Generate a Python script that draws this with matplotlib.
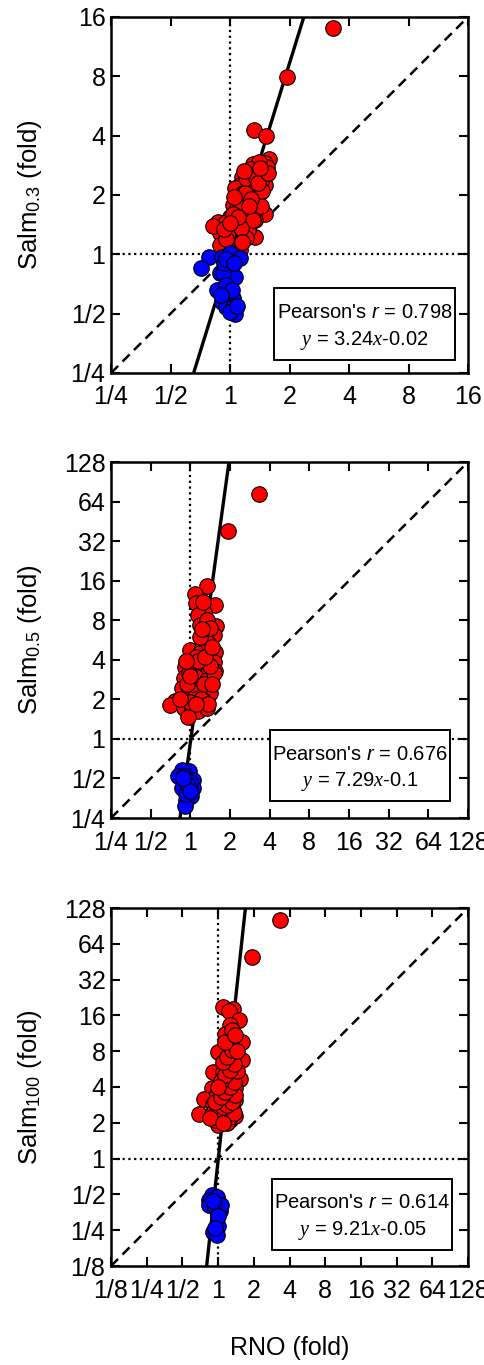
import numpy as np
import matplotlib
matplotlib.use("Agg")
import matplotlib.pyplot as plt
from matplotlib.patches import Rectangle
from matplotlib.ticker import FixedLocator, FixedFormatter, NullLocator

plt.rcParams['font.family'] = ['Liberation Sans', 'DejaVu Sans']
plt.rcParams['mathtext.fontset'] = 'custom'
plt.rcParams['mathtext.rm'] = 'Liberation Sans'
plt.rcParams['mathtext.it'] = 'Liberation Serif:italic'
plt.rcParams['mathtext.bf'] = 'Liberation Sans:italic'

# ---------------- data (fold change, RNO vs Salm) ----------------
# Salm 0.3
p1_up_x = [3.33, 1.95, 1.32, 1.52, 1.58, 1.50, 1.31, 1.39, 1.21, 1.15, 1.47, 1.31, 1.21,
           1.12, 1.50, 1.06, 1.36, 1.17, 1.29, 1.10, 1.19, 1.36, 1.04, 1.24, 1.12, 1.31,
           1.50, 1.00, 1.17, 1.34, 1.08, 0.87, 0.96, 1.21, 1.04, 0.89, 1.10, 1.34, 1.00,
           1.17, 0.89, 1.04, 1.12, 1.24, 1.00, 1.26, 1.08, 1.41, 1.53, 1.24, 1.15, 1.04,
           0.98, 1.21, 0.82, 1.45, 1.40, 1.28, 1.19, 1.30, 1.14, 0.95, 1.02, 1.43,
           1.05, 1.20, 1.35, 1.45, 1.28, 1.10, 0.93, 1.15, 1.25, 1.38, 1.55, 1.00, 1.18, 1.42]
p1_up_y = [14.0, 7.96, 4.28, 3.98, 3.03, 2.89, 2.87, 2.68, 2.58, 2.48, 2.58, 2.34, 2.29,
           2.25, 2.25, 2.16, 2.16, 2.04, 1.96, 1.89, 1.85, 1.85, 1.78, 1.71, 1.61, 1.68,
           1.61, 1.55, 1.55, 1.49, 1.44, 1.46, 1.46, 1.38, 1.33, 1.28, 1.25, 1.22, 1.19,
           1.18, 1.11, 1.11, 1.05, 1.33, 1.35, 1.55, 1.71, 2.04, 2.78, 2.12, 1.81, 1.61,
           1.28, 1.21, 1.40, 2.40, 2.95, 2.70, 2.05, 1.50, 1.36, 1.20, 1.02, 1.75,
           1.95, 2.45, 2.45, 2.10, 1.90, 1.55, 1.35, 1.15, 1.75, 2.30, 2.60, 1.45, 2.65, 2.75]
p1_dn_x = [0.78, 0.71, 0.91, 1.00, 1.12, 0.98, 0.89, 0.94, 1.06, 0.86, 1.00, 1.04, 0.91,
           0.96, 1.04, 1.06, 1.00, 0.92, 0.96, 1.02, 0.93, 0.95, 1.05, 0.90, 1.08]
p1_dn_y = [0.97, 0.85, 0.97, 1.01, 0.955, 0.92, 0.80, 0.785, 0.77, 0.66, 0.63, 0.60, 0.575,
           0.54, 0.54, 0.50, 0.51, 0.80, 0.70, 0.66, 0.90, 0.95, 0.90, 0.62, 0.55]

# Salm 0.5
p2_up_x = [3.34, 1.92, 1.33, 1.09, 1.11, 1.54, 1.27, 1.14, 1.56, 1.18, 1.29, 1.50, 0.99,
           1.22, 1.54, 1.50, 0.91, 1.03, 1.18, 1.37, 1.54, 0.90, 1.11, 1.33, 0.86, 1.09,
           1.25, 1.41, 0.96, 1.02, 0.77, 0.70, 0.90, 1.03, 1.25, 1.14, 0.96, 1.33, 0.99,
           1.18, 1.37, 1.33, 1.50, 0.97, 1.11, 1.18, 1.11,
           1.05, 1.20, 0.95, 1.28, 1.40, 1.00, 1.15, 0.92, 1.30, 1.45, 1.40, 1.22, 1.25,
           1.00, 1.35, 0.83, 1.10, 1.45]
p2_up_y = [73.5, 38.1, 14.6, 12.7, 10.8, 10.4, 9.3, 8.8, 7.2, 7.4, 6.2, 6.2, 4.76,
           4.9, 4.6, 3.87, 3.55, 3.55, 3.46, 3.16, 3.3, 2.89, 2.95, 2.80, 2.43, 2.43,
           2.37, 2.23, 2.2, 2.04, 1.93, 1.82, 1.72, 1.72, 1.98, 1.62, 1.48, 1.72, 2.8,
           4.5, 5.35, 8.0, 3.16, 3.16, 2.23, 6.0, 4.2,
           2.6, 2.0, 2.6, 2.6, 3.6, 3.0, 3.9, 3.9, 4.2, 5.0, 7.0, 6.8, 11.0,
           1.9, 1.85, 2.0, 1.85, 2.6]
p2_dn_x = [0.97, 0.86, 0.81, 1.05, 0.86, 1.05, 1.02, 0.92, 0.91, 0.90, 0.99, 0.92,
           0.95, 1.00, 0.88]
p2_dn_y = [0.57, 0.58, 0.52, 0.49, 0.42, 0.42, 0.365, 0.345, 0.31, 0.52, 0.47, 0.38,
           0.45, 0.40, 0.50]

# Salm 100
p3_up_x = [3.32, 1.95, 1.09, 1.34, 1.23, 1.50, 1.26, 1.14, 1.30, 1.58, 1.26, 1.00, 1.23,
           1.50, 1.14, 0.91, 1.09, 1.34, 1.53, 0.89, 1.19, 1.40, 0.76, 0.98, 1.26, 0.91,
           1.12, 1.34, 0.69, 0.89, 1.14, 1.07, 1.26, 1.00, 1.19, 1.40, 1.58, 1.09, 1.34,
           1.23, 1.07, 1.40, 1.26, 0.93,
           0.95, 1.05, 1.15, 1.25, 1.35, 1.00, 1.10, 1.20, 1.30, 1.40, 0.95, 1.05, 1.15,
           1.25, 1.35, 1.45, 1.05, 1.15, 1.25, 1.35, 1.10, 1.20, 1.30, 1.45, 1.15, 1.30,
           1.40, 0.85, 1.00, 1.10]
p3_up_y = [102, 49.6, 18.8, 18.0, 17.3, 14.5, 13.3, 11.2, 10.3, 9.6, 8.7, 7.9, 7.5,
           6.5, 6.1, 5.4, 5.3, 5.2, 4.7, 3.9, 4.1, 3.9, 3.2, 3.5, 3.2, 2.9,
           2.85, 2.57, 2.37, 2.33, 2.37, 2.11, 2.11, 1.92, 1.98, 2.3, 6.7, 3.7, 4.6,
           5.9, 2.5, 3.1, 2.5, 2.5,
           2.1, 2.3, 2.2, 2.25, 2.4, 2.6, 2.7, 2.8, 3.0, 3.4, 3.0, 3.3, 3.6,
           4.0, 4.4, 5.5, 4.5, 5.0, 5.6, 6.2, 6.5, 7.2, 8.2, 8.0, 9.5, 12.0,
           11.0, 2.2, 4.0, 2.0]
p3_dn_x = [0.88, 0.98, 0.83, 0.84, 1.04, 0.97, 1.00, 0.91, 0.97, 1.06, 0.93,
           0.90, 1.00, 0.95]
p3_dn_y = [0.49, 0.48, 0.45, 0.41, 0.36, 0.36, 0.27, 0.24, 0.23, 0.41, 0.41,
           0.44, 0.33, 0.26]

# fit in log2 space: log2(y) = slope * log2(x) + intercept
slopes = [3.24, 7.29, 9.21]
intercepts = [-0.02, -0.1, -0.05]
pearson_r = [0.798, 0.676, 0.614]
ylabels = ["Salm$_{0.3}$ (fold)", "Salm$_{0.5}$ (fold)", "Salm$_{100}$ (fold)"]
log2_limits = [(-2, 4), (-2, 7), (-3, 7)]


def frac_label(e):
    return str(2 ** e) if e >= 0 else "1/%d" % (2 ** -e)


W, H = 484, 1365
fig = plt.figure(figsize=(W / 100, H / 100), dpi=100)

# axes boxes in pixels: (left, top, right, bottom)
boxes_px = [(111, 17, 468, 373), (111, 462, 468, 818), (111, 908, 468, 1266)]
# statistics frame in axes coords: (x0, y0, x1, y1)
frames = [(0.457, 0.037, 0.964, 0.239), (0.445, 0.048, 0.950, 0.247),
          (0.451, 0.045, 0.955, 0.244)]

series = [(p1_up_x, p1_up_y, p1_dn_x, p1_dn_y),
          (p2_up_x, p2_up_y, p2_dn_x, p2_dn_y),
          (p3_up_x, p3_up_y, p3_dn_x, p3_dn_y)]

tick_font = ['Liberation Sans Narrow', 'Liberation Sans', 'DejaVu Sans']

for i in range(3):
    l, t, r, b = boxes_px[i]
    ax = fig.add_axes([l / W, 1 - b / H, (r - l) / W, (b - t) / H])
    lo, hi = log2_limits[i]
    vmin, vmax = 2.0 ** lo, 2.0 ** hi
    ax.set_xscale('log', base=2)
    ax.set_yscale('log', base=2)
    ax.set_xlim(vmin, vmax)
    ax.set_ylim(vmin, vmax)

    exps = list(range(lo, hi + 1))
    locs = [2.0 ** e for e in exps]
    labs = [frac_label(e) for e in exps]
    for axis in (ax.xaxis, ax.yaxis):
        axis.set_major_locator(FixedLocator(locs))
        axis.set_major_formatter(FixedFormatter(labs))
        axis.set_minor_locator(NullLocator())
    ax.tick_params(which='major', direction='in', length=6.5, width=1.5,
                   top=True, right=True, labelsize=18, colors='black')
    ax.tick_params(axis='x', pad=9)
    ax.tick_params(axis='y', pad=4)
    for lab in ax.get_xticklabels() + ax.get_yticklabels():
        lab.set_family(tick_font)
    for sp in ax.spines.values():
        sp.set_linewidth(1.8)

    # reference lines
    ax.axhline(1, color='black', lw=1.6, ls=(0, (1, 1.6)), zorder=1)
    ax.axvline(1, color='black', lw=1.6, ls=(0, (1, 1.6)), zorder=1)
    diag = np.array([vmin, vmax])
    ax.plot(diag, diag, color='black', lw=1.8, ls=(0, (4, 2.5)), zorder=1)

    # regression line
    xs = np.logspace(lo, hi, 200, base=2)
    ys = 2.0 ** (slopes[i] * np.log2(xs) + intercepts[i])
    ax.plot(xs, ys, color='black', lw=2.4, zorder=2)

    ux, uy, dx, dy = series[i]
    ax.scatter(ux, uy, s=125, c='#ff0000', edgecolors='black', linewidths=0.8, zorder=3,
               clip_on=False)
    ax.scatter(dx, dy, s=125, c='#0000ff', edgecolors='black', linewidths=0.8, zorder=3,
               clip_on=False)

    # statistics frame
    x0, y0, x1, y1 = frames[i]
    ax.add_patch(Rectangle((x0, y0), x1 - x0, y1 - y0, transform=ax.transAxes,
                           facecolor='white', edgecolor='black', lw=1.4, zorder=5))
    cx = (x0 + x1) / 2
    h = y1 - y0
    ax.text(cx, y0 + 0.66 * h, "Pearson's $\\mathbf{r}$ = %.3f" % pearson_r[i],
            transform=ax.transAxes, ha='center', va='center', fontsize=14.5, zorder=6)
    ax.text(cx, y0 + 0.27 * h, "$y$ = %g$x$%g" % (slopes[i], intercepts[i]),
            transform=ax.transAxes, ha='center', va='center', fontsize=14.5, zorder=6)

    # y label
    fig.text(30 / W, 1 - ((t + b) / 2) / H, ylabels[i], rotation=90, ha='center',
             va='center', fontsize=18.5)

fig.text(289.5 / W, 1 - 1348 / H, "RNO (fold)", ha='center', va='center', fontsize=18)

fig.savefig("out.png", dpi=100)
